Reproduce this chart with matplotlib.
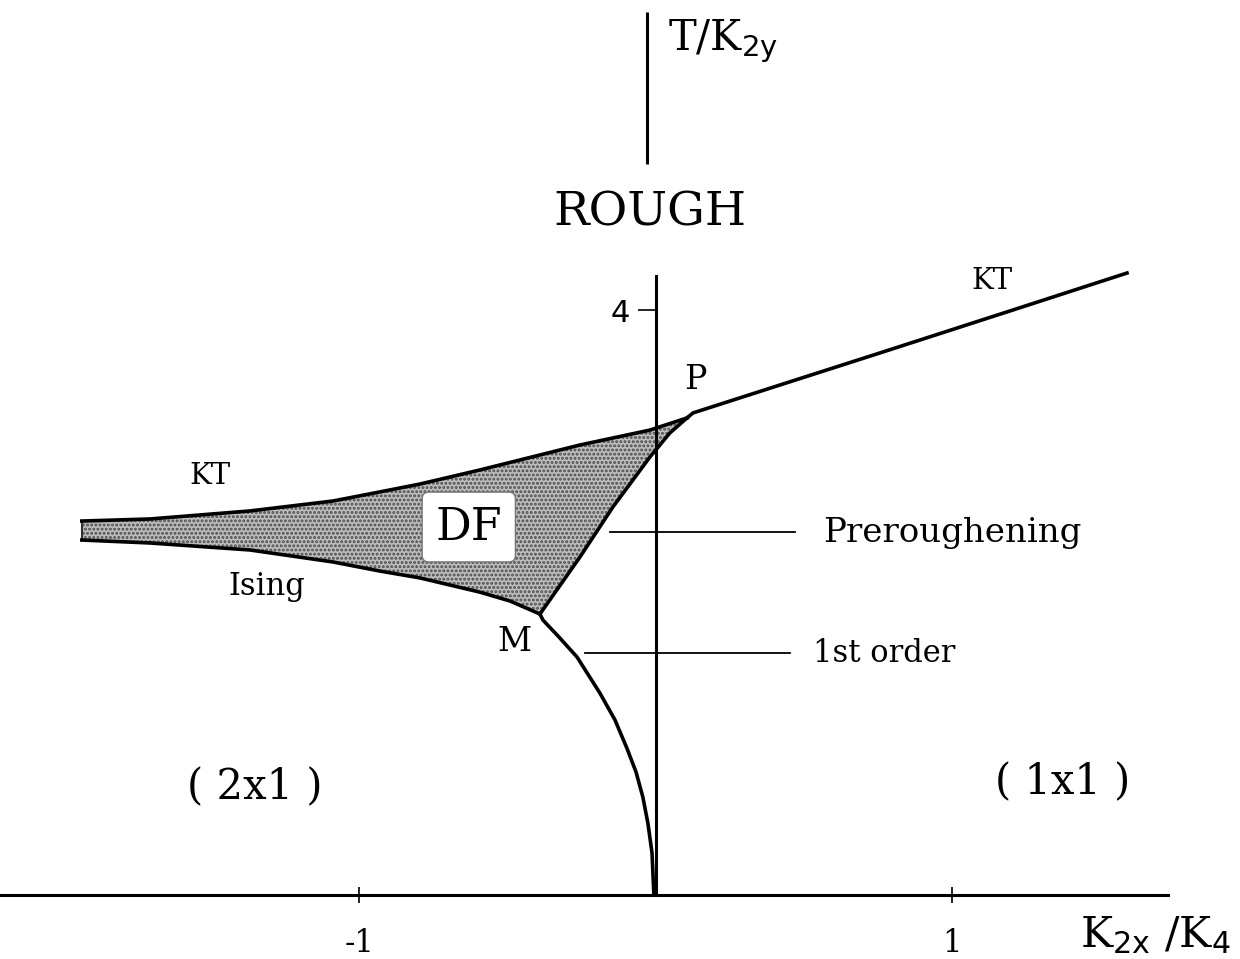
import numpy as np
import matplotlib.pyplot as plt

plt.rcParams['font.family'] = 'DejaVu Serif'
plt.rcParams['mathtext.fontset'] = 'dejavuserif'
plt.rcParams['hatch.linewidth'] = 1.4

# phase boundaries in (K2x/K4, T/K2y)
kt_left_x = [-1.936, -1.707, -1.369, -1.089, -0.931, -0.796, -0.594, -0.256, -0.020, 0.105]
kt_left_t = [2.557, 2.571, 2.626, 2.694, 2.756, 2.810, 2.906, 3.077, 3.179, 3.262]

ising_x = [-1.936, -1.707, -1.369, -1.089, -0.931, -0.796, -0.594, -0.492, -0.391]
ising_t = [2.427, 2.407, 2.359, 2.277, 2.215, 2.168, 2.071, 2.010, 1.921]

prerough_x = [-0.391, -0.256, -0.145, -0.020, 0.047, 0.105]
prerough_t = [1.921, 2.311, 2.653, 2.995, 3.159, 3.262]

kt_right_x = [0.105, 0.125, 0.418, 0.755, 1.204, 1.589]
kt_right_t = [3.262, 3.296, 3.487, 3.706, 4.000, 4.253]

first_x = [-0.391, -0.381, -0.327, -0.266, -0.189, -0.138, -0.098, -0.067, -0.044, -0.027, -0.013, -0.007]
first_t = [1.921, 1.880, 1.764, 1.627, 1.381, 1.197, 1.005, 0.841, 0.670, 0.492, 0.287, 0.014]

xticks = [-1, 1]
xtick_labels = ['-1', '1']
yticks = [4]
ytick_labels = ['4']

fig = plt.figure(figsize=(12.4, 9.59), dpi=100)
ax = fig.add_axes([0, 0, 1, 1])
ax.set_xlim(-2.212, 1.970)
ax.set_ylim(-0.438, 6.120)

# axes through the origin
for s in ['top', 'right']:
    ax.spines[s].set_visible(False)
ax.spines['left'].set_position(('data', 0))
ax.spines['bottom'].set_position(('data', 0))
ax.spines['left'].set_bounds(0, 4.23)
ax.spines['bottom'].set_bounds(-2.212, 1.727)
ax.spines['left'].set_linewidth(2.2)
ax.spines['bottom'].set_linewidth(2.2)

ax.set_xticks(xticks)
ax.set_xticklabels(xtick_labels, fontsize=22)
ax.set_yticks(yticks)
ax.set_yticklabels(ytick_labels, fontsize=22, family='DejaVu Sans')
ax.tick_params(axis='x', direction='inout', length=11, width=1.2, pad=18)
ax.tick_params(axis='y', direction='out', length=13, width=1.2, pad=6)

# short upper piece of the T axis
ax.plot([-0.03, -0.03], [5.0, 6.04], color='black', lw=2.2, solid_capstyle='butt')

# DF region
df_x = kt_left_x + prerough_x[::-1][1:] + ising_x[::-1][1:]
df_t = kt_left_t + prerough_t[::-1][1:] + ising_t[::-1][1:]
ax.fill(df_x, df_t, facecolor='#bcbcbc', edgecolor='#4a4a4a', hatch='....', lw=0)
ax.plot([kt_left_x[0], ising_x[0]], [kt_left_t[0], ising_t[0]], color='#333333', lw=1.5)

for xs, ts in [(kt_left_x, kt_left_t), (ising_x, ising_t), (prerough_x, prerough_t),
               (kt_right_x, kt_right_t), (first_x, first_t)]:
    ax.plot(xs, ts, color='black', lw=2.6, solid_joinstyle='round')

# leaders to the line names
ax.plot([-0.155, 0.469], [2.482, 2.482], color='black', lw=1.3)
ax.plot([-0.239, 0.452], [1.655, 1.655], color='black', lw=1.3)

ax.text(-0.020, 4.663, 'ROUGH', fontsize=34, ha='center', va='center')
ax.text(0.040, 5.778, r'T/K$_{\mathsf{2y}}$', fontsize=30, ha='left', va='baseline')
ax.text(1.133, 4.198, 'KT', fontsize=21, ha='center', va='center')
ax.text(-1.504, 2.865, 'KT', fontsize=21, ha='center', va='center')
ax.text(0.132, 3.521, 'P', fontsize=24, ha='center', va='center')
ax.text(-0.631, 2.516, 'DF', fontsize=32, ha='center', va='center',
        bbox=dict(boxstyle='round,pad=0.3,rounding_size=0.15', fc='white', ec='#777777', lw=1))
ax.text(-1.312, 2.051, 'Ising', fontsize=22, ha='center', va='baseline')
ax.text(-0.476, 1.730, 'M', fontsize=24, ha='center', va='center')
ax.text(0.563, 2.414, 'Preroughening', fontsize=24.5, ha='left', va='baseline')
ax.text(0.530, 1.593, '1st order', fontsize=22, ha='left', va='baseline')
ax.text(-1.352, 0.738, '( 2x1 )', fontsize=30, ha='center', va='center')
ax.text(1.373, 0.773, '( 1x1 )', fontsize=30, ha='center', va='center')
ax.text(1.430, -0.356, r'K$_{\mathsf{2x}}$ /K$_{\mathsf{4}}$', fontsize=31, ha='left', va='baseline')

fig.savefig('out.png', dpi=100)
